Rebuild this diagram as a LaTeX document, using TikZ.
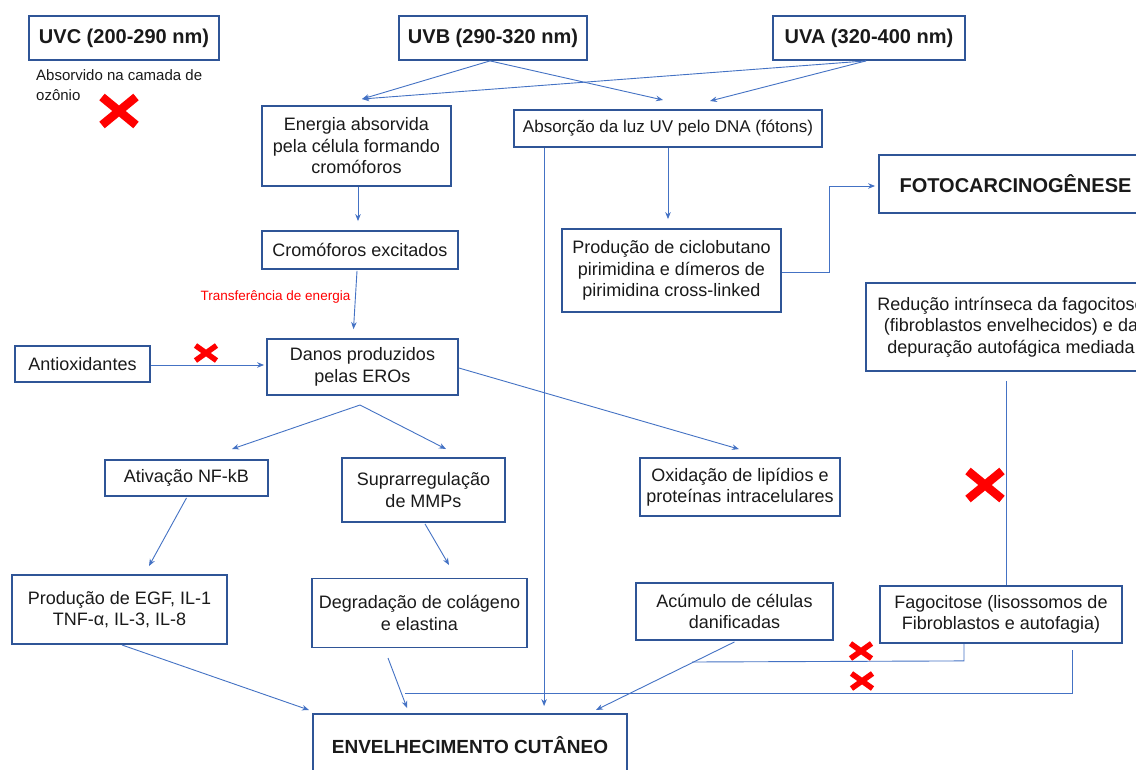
\documentclass[tikz,border=0pt]{standalone}
\usepackage{fontspec}
\setmainfont{Liberation Sans}
\usetikzlibrary{arrows.meta,calc}
\definecolor{boxblue}{HTML}{2F5597}
\definecolor{arrblue}{HTML}{4472C4}
\definecolor{txt}{HTML}{1A1A1A}
\definecolor{xred}{HTML}{FF0000}
\begin{document}
\begin{tikzpicture}[x=1pt,y=-1pt,
 box/.style={draw=boxblue, line width=1.8pt, text=txt, align=center, inner sep=2pt, font=\fontsize{18}{21.5}\selectfont},
 title/.style={box, font=\fontsize{20}{24}\selectfont\bfseries},
 arr/.style={draw=arrblue, line width=0.9pt, -{Stealth[length=7pt,width=5.5pt]}},
 ln/.style={draw=arrblue, line width=0.9pt},
 bigcross/.pic={\draw[xred, line width=8.5pt] (-17,-14) -- (17,14) (-17,14) -- (17,-14);},
 smallcross/.pic={\draw[xred, line width=5.5pt] (-10.5,-7.5) -- (10.5,7.5) (-10.5,7.5) -- (10.5,-7.5);}]
\useasboundingbox (0,0) rectangle (1136,769);
\fill[white] (0,0) rectangle (1136,769);
\clip (0,0) rectangle (1136,769);

% top row
\node[title, minimum width=190pt, minimum height=44pt] (uvc) at (124,38) {UVC (200-290 nm)};
\node[title, minimum width=188pt, minimum height=44pt] (uvb) at (493,38) {UVB (290-320 nm)};
\node[title, minimum width=192pt, minimum height=44pt] (uva) at (869,38) {UVA (320-400 nm)};
\node[anchor=north west, align=left, text=txt, font=\fontsize{15}{20}\selectfont, inner sep=0pt] (ozon) at (36,69) {Absorvido na camada de\\ozônio};
\pic at (119,111) {bigcross};

% second row
\node[box, minimum width=189pt, minimum height=80pt] (energia) at (356.5,146) {Energia absorvida\\pela célula formando\\cromóforos};
\node[box, font=\fontsize{17}{21}\selectfont, minimum width=308pt, minimum height=37pt] (absorcao) at (668,128.5) {Absorção da luz UV pelo DNA (fótons)};
\node[title, minimum width=273pt, minimum height=58pt] (foto) at (1015.5,184) {FOTOCARCINOGÊNESE};

\node[box, minimum width=196pt, minimum height=38pt] (crom) at (360,250) {Cromóforos excitados};
\node[box, minimum width=219pt, minimum height=83pt] (ciclo) at (671.5,270.5) {Produção de ciclobutano\\pirimidina e dímeros de\\pirimidina cross-linked};
\node[text=xred, font=\fontsize{13.5}{16}\selectfont, inner sep=0pt] (transf) at (275.5,297) {Transferência de energia};

\node[box, minimum width=135pt, minimum height=36pt] (antiox) at (82.5,364) {Antioxidantes};
\node[box, minimum width=191pt, minimum height=56pt] (danos) at (362.5,367) {Danos produzidos\\pelas EROs};
\node[box, minimum width=290pt, minimum height=88pt] (reducao) at (1011,327) {Redução intrínseca da fagocitose\\(fibroblastos envelhecidos) e da\\depuração autofágica mediada};
\pic at (206,353) {smallcross};

\node[box, minimum width=163pt, minimum height=36pt] (ativ) at (186.5,478) {Ativação NF-kB};
\node[box, minimum width=163pt, minimum height=64pt] (supra) at (423.5,490) {Suprarregulação\\de MMPs};
\node[box, minimum width=200pt, minimum height=58pt] (oxid) at (740,487) {Oxidação de lipídios e\\proteínas intracelulares};
\pic at (985,485) {bigcross};

\node[box, minimum width=215pt, minimum height=69pt] (egf) at (119.5,609.5) {Produção de EGF, IL-1\\TNF-α, IL-3, IL-8};
\node[box, minimum width=215pt, minimum height=69pt] (degr) at (419.5,613) {Degradação de colágeno\\e elastina};
\node[box, minimum width=197pt, minimum height=57pt] (acum) at (734.5,611.5) {Acúmulo de células\\danificadas};
\node[box, minimum width=242pt, minimum height=57pt] (fago) at (1001,614.5) {Fagocitose (lisossomos de\\Fibroblastos e autofagia)};

\node[title, font=\fontsize{19}{23}\selectfont\bfseries, minimum width=314pt, minimum height=62pt] (envelh) at (470,745) {ENVELHECIMENTO CUTÂNEO};

\pic at (861,651) {smallcross};
\pic at (862,681) {smallcross};

% connectors
\coordinate (ein) at (362,99);
\coordinate (ain1) at (663,100);
\coordinate (ain2) at (710,101);
\draw[arr] ([xshift=-3pt]uvb.south) -- (ein);
\draw[arr] ([xshift=-3pt]uvb.south) -- (ain1);
\draw[arr] ([xshift=-3pt]uva.south) -- (ein);
\draw[arr] ([xshift=-3pt]uva.south) -- (ain2);

\draw[arr, shorten >=7pt] ([xshift=31pt]absorcao.south west) -- ([xshift=31pt]absorcao.south west |- envelh.north);
\draw[arr, shorten >=9pt] (absorcao.south) -- (absorcao.south |- ciclo.north);
\draw[arr, shorten >=9pt] ([xshift=1.5pt]energia.south) -- ([xshift=1.5pt]energia.south |- crom.north);
\draw[arr] ([xshift=-3pt,yshift=-1pt]crom.south) -- ([xshift=-9pt,yshift=9pt]danos.north);
\draw[arr, shorten >=2pt] ([yshift=-1pt]antiox.east) -- ([yshift=-1pt]antiox.east -| danos.west);
\draw[arr, shorten >=3pt] ([yshift=-2pt]ciclo.east) -- ++(48,0) |- ([yshift=-2pt]foto.west);
\draw[arr] ([yshift=-1pt]danos.east) -- ([xshift=-1pt,yshift=8pt]oxid.north);

\coordinate (dsp) at (360,405);
\coordinate (nfin) at (232,449);
\coordinate (mmpin) at (446,449);
\draw[arr] (dsp) -- (nfin);
\draw[arr] (dsp) -- (mmpin);

\draw[arr] ([yshift=-1pt]ativ.south) -- (149,566);
\draw[arr] ([xshift=1.5pt,yshift=-1pt]supra.south) -- (449,565);
\draw[arr] (122,645) -- (309,710);
\draw[arr] (388,658) -- (407,708);
\draw[arr] ([yshift=-1pt]acum.south) -- (596,710);

\draw[ln] ([xshift=-5pt,yshift=-9pt]reducao.south) -- ([xshift=5pt]fago.north);
\draw[ln] ([xshift=-37pt]fago.south) -- ++(0,17) -- (692,662);
\draw[ln] (1072,650) -- (1072,693) -- (405,693);
\end{tikzpicture}
\end{document}
